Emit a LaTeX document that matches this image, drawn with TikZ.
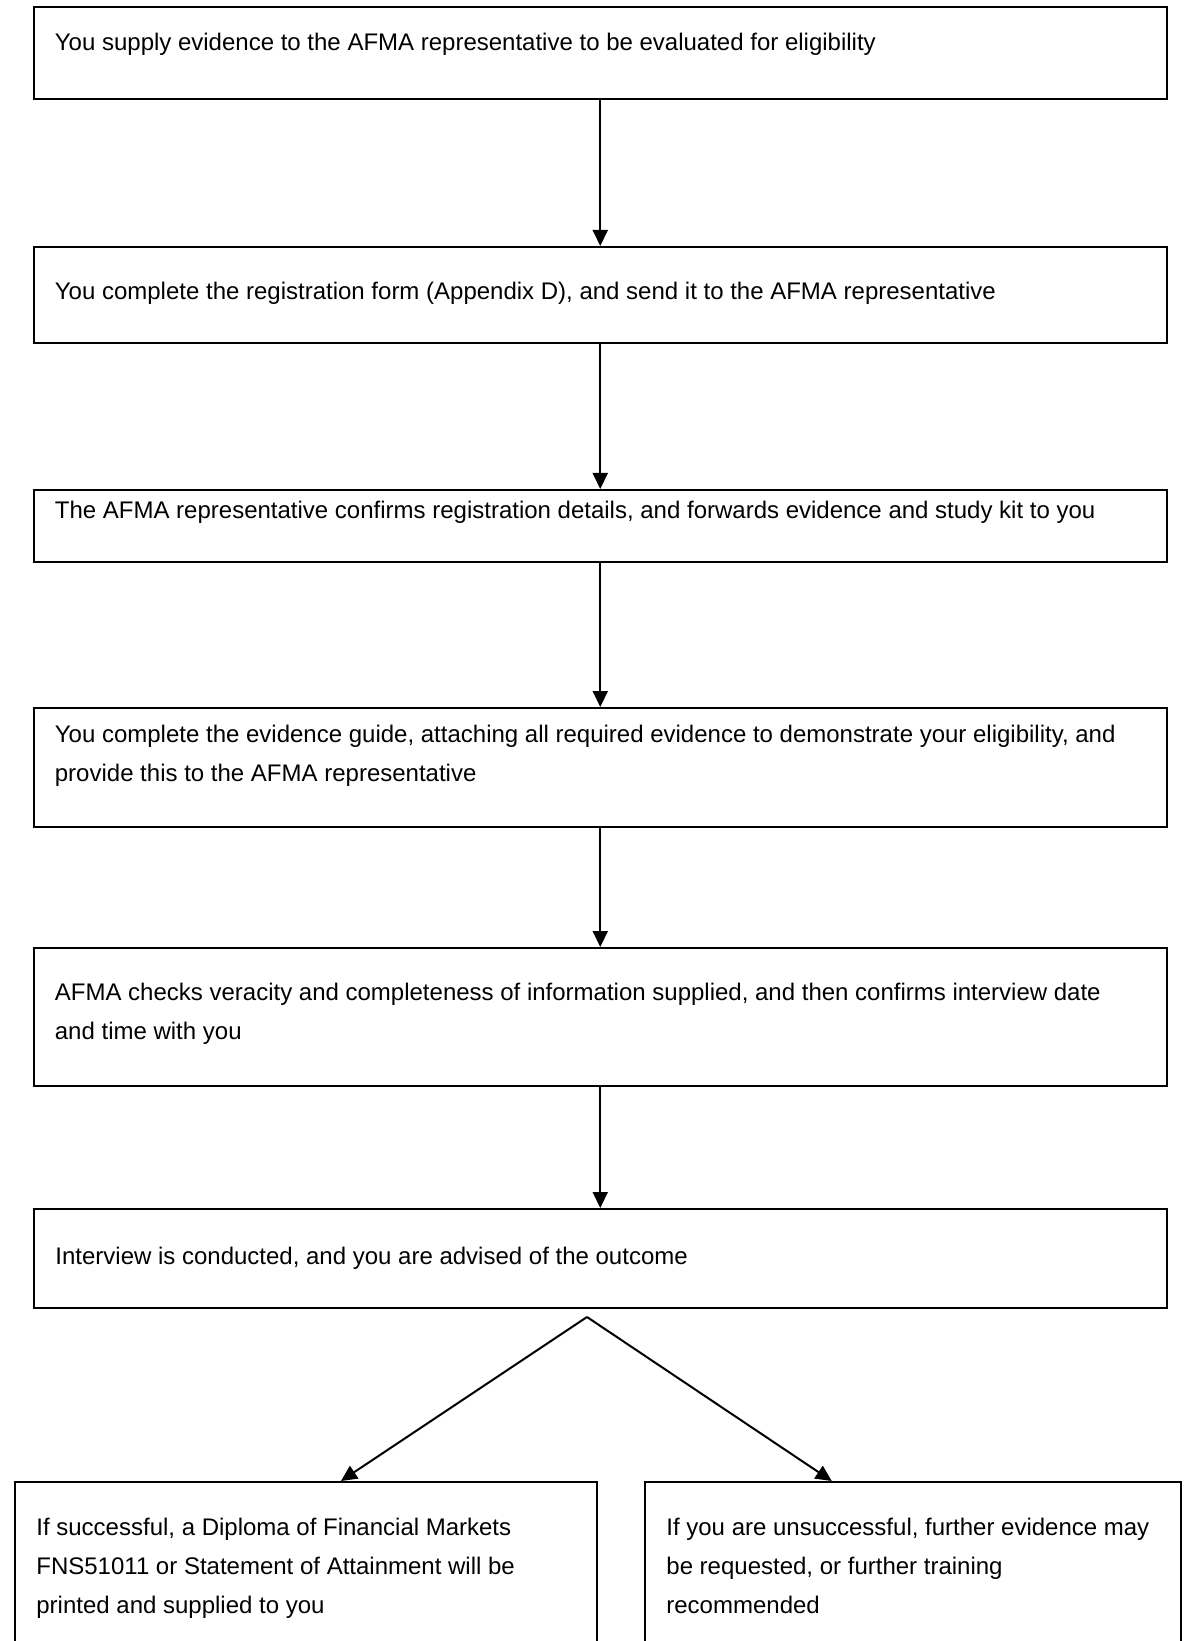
\documentclass[tikz,border=0pt]{standalone}
\usepackage{fontspec}
\setmainfont{Liberation Sans}
\usetikzlibrary{positioning,fit,calc,arrows.meta}

\begin{document}
\begin{tikzpicture}[x=0.5pt,y=-0.5pt,
  box/.style = {draw, line width=1pt, inner sep=0pt},
  txt/.style = {anchor=north west, inner sep=0pt, align=left, font=\fontsize{12}{19.5}\selectfont},
  flow/.style = {-{Triangle[length=8pt,width=7.5pt]}, line width=1pt}]
\useasboundingbox (0,0) rectangle (1183,1641);
% steps
\node[box, fit={(33.5,7) (1167,99.5)}] (b1) {};
\node[box, fit={(33.5,247) (1167,343)}] (b2) {};
\node[box, fit={(33.5,490) (1167,562)}] (b3) {};
\node[box, fit={(33.5,708) (1167,827)}] (b4) {};
\node[box, fit={(33.5,948) (1167,1086)}] (b5) {};
\node[box, fit={(33.5,1209) (1167,1308)}] (b6) {};
\node[box, fit={(14.7,1482) (597,1660)}] (b7) {};
\node[box, fit={(645,1482) (1181,1660)}] (b8) {};
% texts
\node[txt] (t1) at (54.5,33) {You supply evidence to the AFMA representative to be evaluated for eligibility};
\node[txt] (t2) at (54.5,282) {You complete the registration form (Appendix D), and send it to the AFMA representative};
\node[txt] (t3) at (54.5,501) {The AFMA representative confirms registration details, and forwards evidence and study kit to you};
\node[txt] (t4) at (54.5,725) {You complete the evidence guide, attaching all required evidence to demonstrate your eligibility, and\\provide this to the AFMA representative};
\node[txt] (t5) at (54.5,983) {AFMA checks veracity and completeness of information supplied, and then confirms interview date\\and time with you};
\node[txt] (t6) at (55,1247) {Interview is conducted, and you are advised of the outcome};
\node[txt] (t7) at (36,1518) {If successful, a Diploma of Financial Markets\\FNS51011 or Statement of Attainment will be\\printed and supplied to you};
\node[txt] (t8) at (666,1518) {If you are unsuccessful, further evidence may\\be requested, or further training\\recommended};
% arrows
\foreach \a/\b in {b1/b2,b2/b3,b3/b4,b4/b5,b5/b6}
  \draw[flow] (\a.south) -- (\b.north);
\coordinate (split) at (587,1317);
\draw[flow] (split) -- ($(b7.north west)!0.560!(b7.north east)$);
\draw[flow] (split) -- ($(b8.north west)!0.349!(b8.north east)$);
\end{tikzpicture}
\end{document}
